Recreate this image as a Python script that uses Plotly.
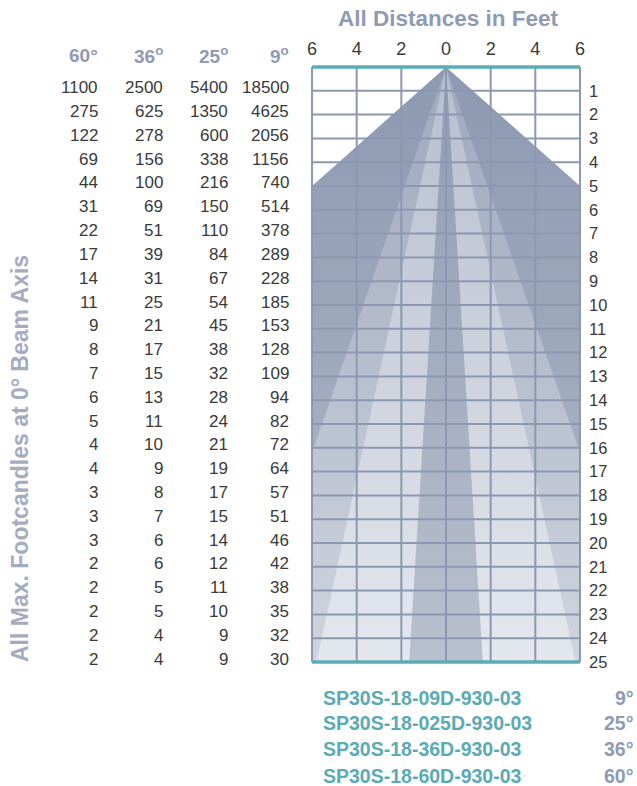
import plotly.graph_objects as go

# ---------------- data ----------------
beam_labels = ["60°", "36°", "25°", "9°"]
beam_header_text = ["60°", "36<sup>o</sup>", "25<sup>o</sup>", "9<sup>o</sup>"]
distances_ft = list(range(1, 26))

fc_60 = [1100, 275, 122, 69, 44, 31, 22, 17, 14, 11, 9, 8, 7, 6, 5, 4, 4, 3, 3, 3, 2, 2, 2, 2, 2]
fc_36 = [2500, 625, 278, 156, 100, 69, 51, 39, 31, 25, 21, 17, 15, 13, 11, 10, 9, 8, 7, 6, 6, 5, 5, 4, 4]
fc_25 = [5400, 1350, 600, 338, 216, 150, 110, 84, 67, 54, 45, 38, 32, 28, 24, 21, 19, 17, 15, 14, 12, 11, 10, 9, 9]
fc_9 = [18500, 4625, 2056, 1156, 740, 514, 378, 289, 228, 185, 153, 128, 109, 94, 82, 72, 64, 57, 51, 46, 42, 38, 35, 32, 30]

# beam edge: distance (ft) at which the edge reaches half-width (ft)
edge_distance = [5.0, 16.2, 25.0, 25.0]
edge_halfwidth = [6.0, 6.0, 5.8, 1.65]

x_ticks = [-6, -4, -2, 0, 2, 4, 6]
x_tick_text = ["6", "4", "2", "0", "2", "4", "6"]
max_dist = 25
half_span = 6

models = ["SP30S-18-09D-930-03", "SP30S-18-025D-930-03", "SP30S-18-36D-930-03", "SP30S-18-60D-930-03"]
model_angles = ["9°", "25°", "36°", "60°"]

# ---------------- styles ----------------
cone_colors = [("#8d99b2", "#b2bac9"), ("#9ea8bd", "#cfd4de"), ("#b6bece", "#e4e7ee"), ("#8f9bb3", "#b9c0ce")]
grid_col = "#8c98b0"
teal = "#5aabb5"
label_col = "#8f9ab3"
text_col = "#3a3a3a"
FONT = "Liberation Sans, Arial, sans-serif"

W, H = 637, 786
L, T = 308, 60          # plot area, in page pixels
PW, PH = 276, 610
PX = 22.33              # px per ft horizontally
PY = 23.8               # px per ft vertically
X0, Y0 = 446, 67        # page pixel of (0 ft, 0 ft)

xr = [(L - X0) / PX, (L + PW - X0) / PX]
yr = [(T + PH - Y0) / PY, (T - Y0) / PY]

fig = go.Figure()

for i in range(4):
    d, w = edge_distance[i], edge_halfwidth[i]
    xs = [0, -w]
    ys = [0, d]
    if d < max_dist:
        xs += [-half_span, half_span]
        ys += [max_dist, max_dist]
    xs += [w, 0]
    ys += [d, 0]
    c0, c1 = cone_colors[i]
    fig.add_trace(go.Scatter(
        x=xs, y=ys, mode="lines", fill="toself", line=dict(width=0),
        fillgradient=dict(type="vertical", colorscale=[[0, c0], [1, c1]], start=0, stop=max_dist),
        hoverinfo="skip", showlegend=False))

gx, gy = [], []
for xv in x_ticks:
    gx += [xv, xv, None]
    gy += [0, max_dist, None]
for yv in distances_ft[:-1]:
    gx += [-half_span, half_span, None]
    gy += [yv, yv, None]
fig.add_trace(go.Scatter(x=gx, y=gy, mode="lines", line=dict(color=grid_col, width=2),
                         hoverinfo="skip", showlegend=False))
fig.add_trace(go.Scatter(x=[-half_span, half_span, None, -half_span, half_span],
                         y=[0, 0, None, max_dist, max_dist], mode="lines",
                         line=dict(color=teal, width=3.5), hoverinfo="skip", showlegend=False))

# ---------------- annotations (paper coords from reference pixel positions) ----------------
def px(p):
    return (p - L) / PW

def py(p):
    return 1 - (p - T) / PH

def row_py(dist):
    return Y0 + dist * PY

ann = []
col_right_px = [98, 163, 228, 289]
columns = [fc_60, fc_36, fc_25, fc_9]
for ci, vals in enumerate(columns):
    ann.append(dict(x=px(col_right_px[ci] + 2), y=py(55), xref="paper", yref="paper",
                    text="<b>%s</b>" % beam_header_text[ci], showarrow=False,
                    xanchor="right", yanchor="middle", font=dict(family=FONT, size=19, color=label_col)))
    for r, v in enumerate(vals):
        ann.append(dict(x=px(col_right_px[ci] + 2), y=py(row_py(distances_ft[r]) - 3), xref="paper", yref="paper",
                        text=str(v), showarrow=False, xanchor="right", yanchor="middle",
                        font=dict(family=FONT, size=17, color=text_col)))

ann.append(dict(x=px(448), y=py(19), xref="paper", yref="paper", text="<b>All Distances in Feet</b>",
                showarrow=False, xanchor="center", yanchor="middle",
                font=dict(family=FONT, size=22.5, color=label_col)))
ann.append(dict(x=px(20), y=py(459), xref="paper", yref="paper",
                text="<b>All Max. Footcandles at 0° Beam Axis</b>", showarrow=False, textangle=-90,
                xanchor="center", yanchor="middle", font=dict(family=FONT, size=23, color="#a3acc1")))

row_px = [698, 723, 749, 776]
for i, m in enumerate(models):
    ann.append(dict(x=px(321), y=py(row_px[i]), xref="paper", yref="paper", text="<b>%s</b>" % m,
                    showarrow=False, xanchor="left", yanchor="middle",
                    font=dict(family=FONT, size=19.5, color=teal)))
    ann.append(dict(x=px(636), y=py(row_px[i]), xref="paper", yref="paper", text="<b>%s</b>" % model_angles[i],
                    showarrow=False, xanchor="right", yanchor="middle",
                    font=dict(family=FONT, size=19.5, color=label_col)))

fig.update_layout(
    width=W, height=H,
    margin=dict(l=L, r=W - L - PW, t=T, b=H - T - PH, pad=0, autoexpand=False),
    paper_bgcolor="white", plot_bgcolor="white",
    annotations=ann,
    xaxis=dict(range=xr, side="top", tickvals=x_ticks, ticktext=x_tick_text, showgrid=False, zeroline=False,
               showline=False, ticks="", ticklabelstandoff=0, automargin=False,
               tickfont=dict(family=FONT, size=18, color=text_col), fixedrange=True),
    yaxis=dict(range=yr, side="right", tickvals=distances_ft, showgrid=False, zeroline=False, showline=False,
               ticks="", ticklabelstandoff=4, automargin=False,
               tickfont=dict(family=FONT, size=16.5, color=text_col), fixedrange=True),
)

fig.write_html("out.html", config={"displayModeBar": False},
               post_script="document.body.style.margin='0';document.body.style.overflow='hidden';")
